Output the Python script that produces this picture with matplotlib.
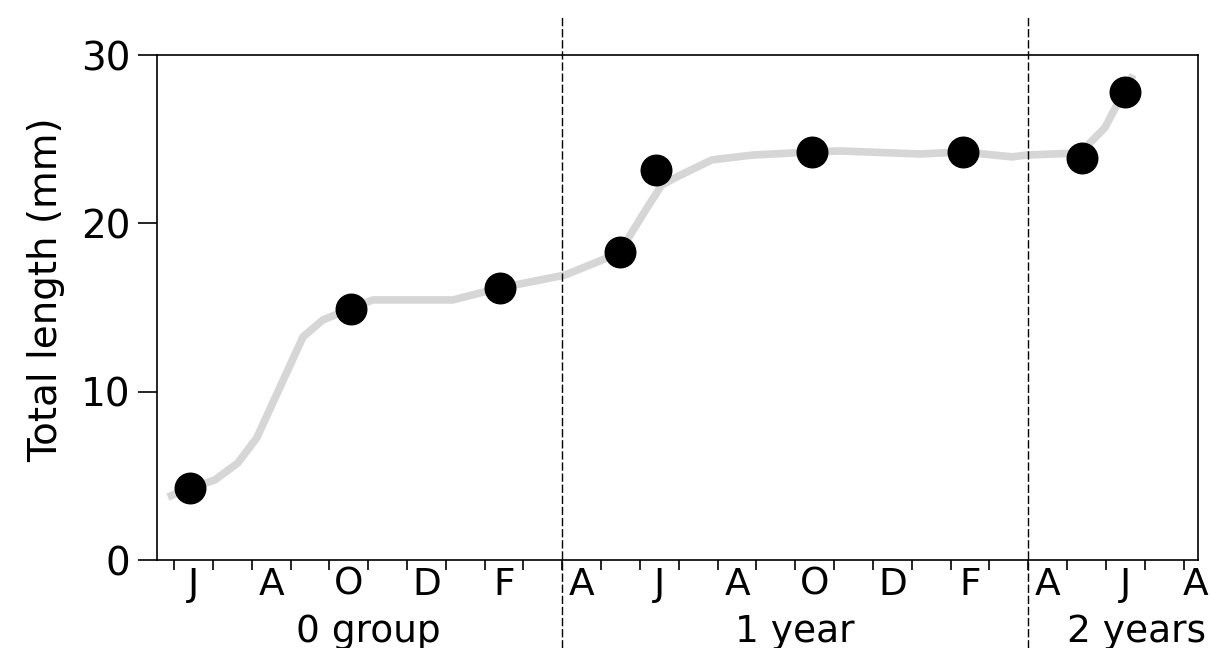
import numpy as np
import matplotlib.pyplot as plt

plt.rcParams['font.family'] = ['DejaVu Sans']

# x in months, 0 = start of June (0 group)
curve_x = [-0.16, 0.41, 1.05, 1.64, 2.13, 3.32, 3.83, 4.53, 5.12, 6.08, 7.18, 8.39,
           10.07, 11.15, 11.48, 12.18, 12.56, 12.95, 13.85, 14.91, 16.43, 17.15, 19.21,
           20.32, 21.58, 21.97, 23.33, 23.97, 24.31, 24.70]
curve_y = [3.74, 4.28, 4.75, 5.76, 7.25, 13.25, 14.26, 14.91, 15.45, 15.45, 15.45, 16.16,
           16.93, 17.94, 18.30, 20.92, 22.28, 22.76, 23.77, 24.06, 24.24, 24.30, 24.12,
           24.24, 23.95, 24.06, 24.18, 25.67, 27.15, 28.82]

obs_x = [0.41, 4.56, 8.39, 11.48, 12.41, 16.43, 20.32, 23.38, 24.49]
obs_y = [4.28, 14.91, 16.16, 18.30, 23.17, 24.24, 24.24, 23.89, 27.81]

month_labels = ['J', 'A', 'O', 'D', 'F', 'A', 'J', 'A', 'O', 'D', 'F', 'A', 'J', 'A']
age_groups = ['0 group', '1 year', '2 years']
age_pos = [5, 16, 24.8]
year_breaks = [10, 22]   # start of April

fig = plt.figure(figsize=(12.12, 6.48), dpi=100)
ax = fig.add_axes([0.1295, 0.1358, 0.8589, 0.7793])

ax.plot(curve_x, curve_y, color='#d6d6d6', lw=5.5, solid_capstyle='butt', zorder=2)
ax.plot(obs_x, obs_y, 'o', color='black', ms=22, zorder=3)

for xb in year_breaks:
    ax.axvline(xb, ymin=-0.174, ymax=1.079, color='black', lw=1,
               linestyle=(0, (6, 2)), clip_on=False, zorder=4)

ax.set_xlim(-0.44, 26.37)
ax.set_ylim(0, 30)

# month boundaries as ticks, labels centred in every second month
ax.set_xticks(np.arange(0, 27))
ax.set_xticklabels([])
label_pos = np.minimum(np.arange(0.5, 27, 2), 26.3)
ax.set_xticks(label_pos, minor=True)
ax.set_xticklabels(month_labels, minor=True, fontsize=27)
ax.tick_params(axis='x', which='major', length=7, width=1.2, direction='out')
ax.tick_params(axis='x', which='minor', length=0, pad=5)

ax.set_yticks([0, 10, 20, 30])
ax.tick_params(axis='y', length=14, width=1.2, pad=5, labelsize=28)

for sp in ax.spines.values():
    sp.set_linewidth(1.2)

ax.set_ylabel('Total length (mm)', fontsize=28)
ax.yaxis.set_label_coords(-0.088, 0.535)

trans = ax.get_xaxis_transform()
for name, xp in zip(age_groups, age_pos):
    ax.text(xp, -0.162, name, transform=trans, ha='center', va='baseline', fontsize=27)

fig.savefig('out.png', dpi=100)
